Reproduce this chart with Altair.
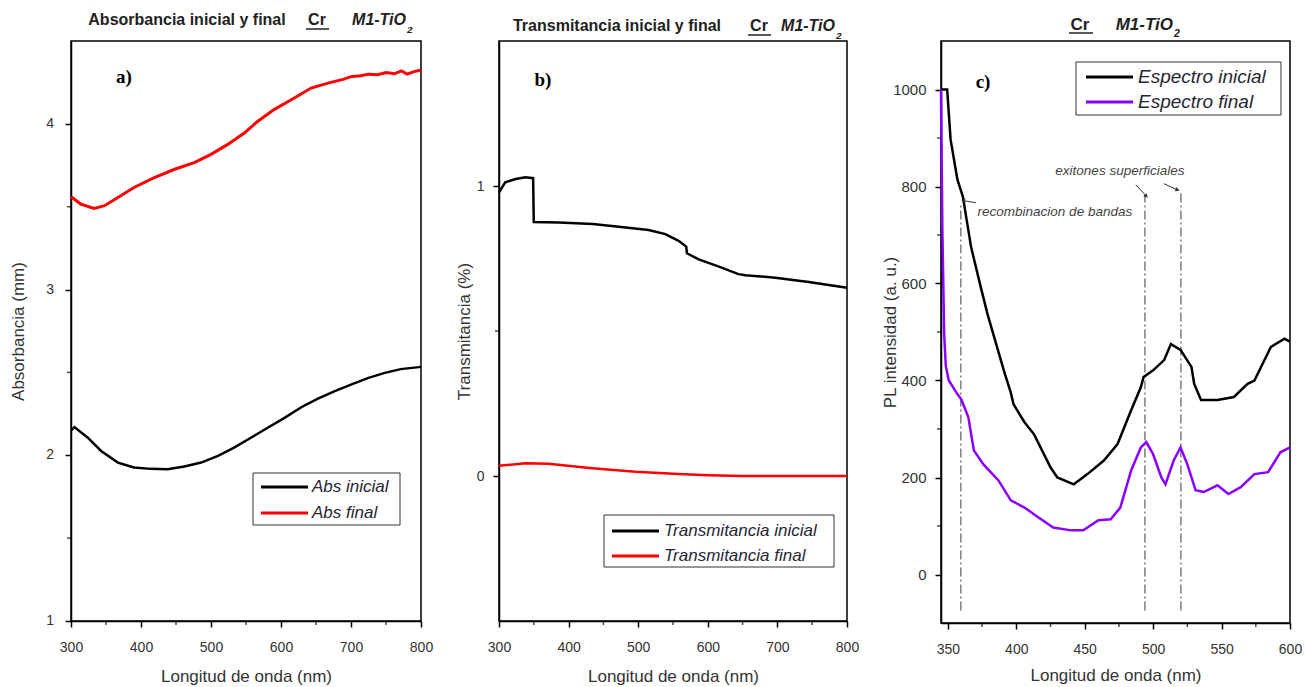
import altair as alt
import pandas as pd

FONT = "Liberation Sans"
SERIF = "Liberation Serif"

# ---------------- Panel a: Absorbancia ----------------
abs_ini_x = [300, 305, 324, 343, 367, 390, 414, 438, 462, 486, 510, 533, 557, 581, 605, 629, 652, 676, 700, 724, 747, 771, 797, 800]
abs_ini_y = [2.15, 2.17, 2.106, 2.026, 1.956, 1.926, 1.918, 1.916, 1.932, 1.956, 1.996, 2.046, 2.106, 2.166, 2.226, 2.29, 2.34, 2.386, 2.426, 2.466, 2.496, 2.52, 2.532, 2.535]
abs_fin_x = [300, 314, 333, 348, 367, 390, 419, 448, 476, 500, 524, 548, 567, 590, 619, 643, 667, 690, 700, 714, 725, 738, 750, 762, 772, 780, 790, 800]
abs_fin_y = [3.56, 3.516, 3.49, 3.506, 3.556, 3.616, 3.676, 3.726, 3.766, 3.816, 3.876, 3.946, 4.016, 4.086, 4.156, 4.216, 4.246, 4.27, 4.285, 4.29, 4.30, 4.296, 4.31, 4.302, 4.32, 4.30, 4.315, 4.325]
legend_a = ["Abs inicial", "Abs final"]
a_xmajor = [300, 400, 500, 600, 700, 800]
a_xminor = [350, 450, 550, 650, 750]
a_ymajor = [1, 2, 3, 4]
a_yminor = [1.5, 2.5, 3.5]

# ---------------- Panel b: Transmitancia ----------------
tr_ini_x = [300, 309, 324, 338, 349, 350, 386, 435, 482, 515, 539, 558, 569, 570, 587, 616, 644, 654, 697, 745, 800]
tr_ini_y = [0.978, 1.013, 1.024, 1.030, 1.027, 0.876, 0.874, 0.869, 0.857, 0.848, 0.834, 0.811, 0.791, 0.768, 0.747, 0.722, 0.696, 0.692, 0.684, 0.669, 0.649]
tr_fin_x = [300, 338, 371, 434, 496, 558, 601, 649, 800]
tr_fin_y = [0.035, 0.044, 0.042, 0.027, 0.015, 0.007, 0.003, 0.0, 0.0]
legend_b = ["Transmitancia inicial", "Transmitancia final"]
b_xmajor = [300, 400, 500, 600, 700, 800]
b_xminor = [350, 450, 550, 650, 750]
b_ymajor = [0, 1]
b_yminor = [0.5]

# ---------------- Panel c: PL ----------------
pl_ini_x = [345, 349.5, 352, 357, 361, 367, 374, 379, 391, 396, 398, 406, 413, 425, 430, 442, 452, 464, 474, 484, 491, 493, 500, 508, 513, 520, 528, 530, 535, 547, 559, 569, 574, 586, 596, 600]
pl_ini_y = [1000, 1000, 897, 814, 779, 675, 593, 537, 420, 375, 351, 314, 289, 221, 200, 186, 207, 235, 269, 339, 386, 407, 421, 442, 475, 463, 428, 393, 360, 360, 366, 393, 400, 469, 486, 480]
pl_fin_x = [345, 346, 347.3, 348.5, 350.7, 357, 360, 365, 369, 376, 387, 396, 406, 416, 427, 440, 449, 460, 469, 476, 484, 491, 495, 500, 506, 509, 515, 520, 525, 531, 537, 547, 555, 564, 574, 584, 593, 600]
pl_fin_y = [1000, 711, 496, 430, 400, 372, 360, 324, 256, 227, 194, 153, 138, 118, 97, 91, 91, 112, 114, 138, 215, 262, 273, 248, 200, 186, 235, 262, 227, 174, 170, 184, 166, 180, 207, 211, 252, 262]
legend_c = ["Espectro inicial", "Espectro final"]
c_xmajor = [350, 400, 450, 500, 550, 600]
c_xminor = [375, 425, 475, 525, 575]
c_ymajor = [0, 200, 400, 600, 800, 1000]
c_yminor = [100, 300, 500, 700, 900]

marker_x = [359.5, 494, 520.3]
marker_bottom = [-74, -74, -74]
marker_top = [765, 782, 789]
arrow_x = [370.5, 487.4, 507.9]
arrow_y = [766.5, 803.7, 805.8]
arrow_x2 = [361.7, 494.7, 517.4]
arrow_y2 = [770.7, 781.0, 793.4]
arrow_angle = [270, 138, 115]
note_text = ["recombinacion de bandas", "exitones superficiales"]
note_x = [428.2, 475.7]
note_y = [748, 831]

one = pd.DataFrame({"k": [0]})


def make_x(domain, values, tpad):
    sc = alt.Scale(domain=domain, nice=False)
    ax = alt.Axis(values=values, title="Longitud de onda (nm)", format="d", ticks=True, tickSize=6,
                  labelFlush=False, labelOverlap=False, labelFontSize=14, labelPadding=13,
                  labelAlign="center", labelBaseline="top",
                  titleFontSize=17, titlePadding=tpad, grid=False)
    return lambda f: alt.X(f"{f}:Q", scale=sc, axis=ax)


def make_y(domain, values, title, lpad, tpad, lsize=14, labels=True):
    sc = alt.Scale(domain=domain, nice=False)
    ax = alt.Axis(values=values, title=title, format="d", ticks=True, tickSize=6, labels=labels,
                  labelFlush=False, labelOverlap=False, labelFontSize=lsize, labelPadding=lpad,
                  labelAlign="right", labelBaseline="middle",
                  titleFontSize=17, titlePadding=tpad, grid=False)
    return lambda f: alt.Y(f"{f}:Q", scale=sc, axis=ax)


def series(xs, ys, color, X, Y, width=2.5):
    df = pd.DataFrame({"wl": xs, "v": ys})
    return alt.Chart(df).mark_line(color=color, strokeWidth=width).encode(x=X("wl"), y=Y("v"))


def minor_ticks(xminor, yminor, X, Y, h):
    tx = alt.Chart(pd.DataFrame({"wl": xminor})).mark_tick(
        orient="vertical", color="black", thickness=1.5, size=4).encode(x=X("wl"), y=alt.value(h + 2))
    ty = alt.Chart(pd.DataFrame({"v": yminor})).mark_tick(
        orient="horizontal", color="black", thickness=1.5, size=4).encode(y=Y("v"), x=alt.value(-2))
    return [tx, ty]


def ylabels(values, Y, xoff, size=14):
    return alt.Chart(pd.DataFrame({"v": values})).mark_text(
        font=FONT, fontSize=size, color="#333", align="right", baseline="middle").encode(
        y=Y("v"), x=alt.value(xoff), text=alt.Text("v:Q", format="d"))


def txt(text, x, y, size, weight="normal", style="normal", font=FONT, align="left", color="#222"):
    return alt.Chart(one).mark_text(text=text, font=font, fontSize=size, fontWeight=weight,
                                    fontStyle=style, align=align, baseline="middle",
                                    color=color).encode(x=alt.value(x), y=alt.value(y))


def hrule(x1, x2, y, color, width):
    return alt.Chart(one).mark_rule(color=color, strokeWidth=width).encode(
        x=alt.value(x1), x2=alt.value(x2), y=alt.value(y))


def box(x1, x2, y1, y2):
    return alt.Chart(one).mark_rect(fill="white", stroke="#333", strokeWidth=1).encode(
        x=alt.value(x1), x2=alt.value(x2), y=alt.value(y1), y2=alt.value(y2))


def title_parts(t1, c1, cr_c, ul1, ul2, uly, mr, sub_x, ty, suby, size):
    parts = []
    if t1:
        parts.append(txt(t1, c1, ty, size, weight="bold", align="center"))
    parts.append(txt("Cr", cr_c, ty, size, weight="bold", align="center"))
    parts.append(hrule(ul1, ul2, uly, "#222", 1.5))
    parts.append(txt("M1-TiO", mr, ty, size, weight="bold", style="italic", align="right"))
    parts.append(txt("2", sub_x, suby, size * 0.62, weight="bold", style="italic"))
    return parts


def legend(labels, colors, bx1, bx2, by1, by2, lx1, lx2, ly, tx, size):
    parts = [box(bx1, bx2, by1, by2)]
    for lab, col, yy in zip(labels, colors, ly):
        parts.append(hrule(lx1, lx2, yy, col, 3))
        parts.append(txt(lab, tx, yy, size, style="italic", color="#262633"))
    return parts


# ---------- Panel a ----------
HA = 580
XA = make_x([300, 800], a_xmajor, 14)
YA = make_y([1, 4.5], a_ymajor, "Absorbancia (mm)", 11, 37, labels=False)
panel_a = alt.layer(
    series(abs_ini_x, abs_ini_y, "black", XA, YA),
    series(abs_fin_x, abs_fin_y, "#ff0000", XA, YA, 3),
    *minor_ticks(a_xminor, a_yminor, XA, YA, HA),
    ylabels(a_ymajor, YA, -17),
    *title_parts("Absorbancia inicial y final", 116, 246, 235, 258, -12, 335, 336, -21, -11, 16),
    txt("a)", 53, 36, 19, weight="bold", font=SERIF, align="center", color="black"),
    *legend(legend_a, ["black", "#ff0000"], 182, 329, 432, 484, 190, 237, [446, 472], 241, 17),
).properties(width=350, height=HA)

# ---------- Panel b ----------
HB = 580
XB = make_x([300, 800], b_xmajor, 14)
YB = make_y([-0.5, 1.5], b_ymajor, "Transmitancia (%)", 9, 3)
panel_b = alt.layer(
    series(tr_ini_x, tr_ini_y, "black", XB, YB),
    series(tr_fin_x, tr_fin_y, "#ff0000", XB, YB),
    *minor_ticks(b_xminor, b_yminor, XB, YB, HB),
    *title_parts("Transmitancia inicial y final", 118, 260, 249, 272, -6, 336, 337, -15, -5, 16),
    txt("b)", 44, 39, 19, weight="bold", font=SERIF, align="center", color="black"),
    *legend(legend_b, ["black", "#ff0000"], 105, 335, 474, 526, 113, 160, [490, 515], 165, 17),
).properties(width=348, height=HB)

# ---------- Panel c ----------
HC = 582
XC = make_x([345, 600], c_xmajor, 11)
YC = make_y([-100, 1100], c_ymajor, "PL intensidad (a. u.)", 9, -7, 15)

mk = pd.DataFrame({"wl": marker_x, "v": marker_bottom, "v2": marker_top})
markers = alt.Chart(mk).mark_rule(color="#6a6a6a", strokeWidth=1.3, strokeDash=[9, 3, 2, 3]).encode(
    x=XC("wl"), y=YC("v"), y2="v2:Q")
ar = pd.DataFrame({"wl": arrow_x, "v": arrow_y, "wl2": arrow_x2, "v2": arrow_y2, "ang": arrow_angle})
arrows = alt.Chart(ar).mark_rule(color="#333", strokeWidth=1).encode(
    x=XC("wl"), y=YC("v"), x2="wl2:Q", y2="v2:Q")
heads = alt.Chart(ar).mark_point(shape="triangle", filled=True, color="#333", size=22, opacity=1).encode(
    x=XC("wl2"), y=YC("v2"), angle=alt.Angle("ang:Q", scale=None))
nt = pd.DataFrame({"wl": note_x, "v": note_y, "t": note_text})
notes = alt.Chart(nt).mark_text(font=FONT, fontSize=13.5, fontStyle="italic", color="#444",
                                align="center", baseline="middle").encode(x=XC("wl"), y=YC("v"), text="t:N")

panel_c = alt.layer(
    markers,
    series(pl_ini_x, pl_ini_y, "black", XC, YC),
    series(pl_fin_x, pl_fin_y, "#8a00ff", XC, YC),
    *minor_ticks(c_xminor, c_yminor, XC, YC, HC),
    arrows, heads, notes,
    *title_parts(None, 0, 139, 128, 152, -8, 232, 233, -16, -7, 17),
    txt("c)", 42, 41, 19, weight="bold", font=SERIF, align="center", color="black"),
    *legend(legend_c, ["black", "#8a00ff"], 135, 340, 21, 74, 145, 192, [36, 61], 197, 19),
).properties(width=349, height=HC)

chart = alt.hconcat(panel_a, panel_b, panel_c, spacing=20).properties(
    padding={"left": 8, "top": 11, "right": 0, "bottom": 0},
    background="white",
).configure_view(stroke="black", strokeWidth=1.5).configure_axis(
    domainColor="black", domainWidth=1.5, tickColor="black", tickWidth=1.5,
    labelColor="#333", titleColor="#333", labelFont=FONT, titleFont=FONT,
    titleFontWeight="normal", grid=False)

chart.save("out.html", embed_options={"renderer": "svg", "actions": False})
